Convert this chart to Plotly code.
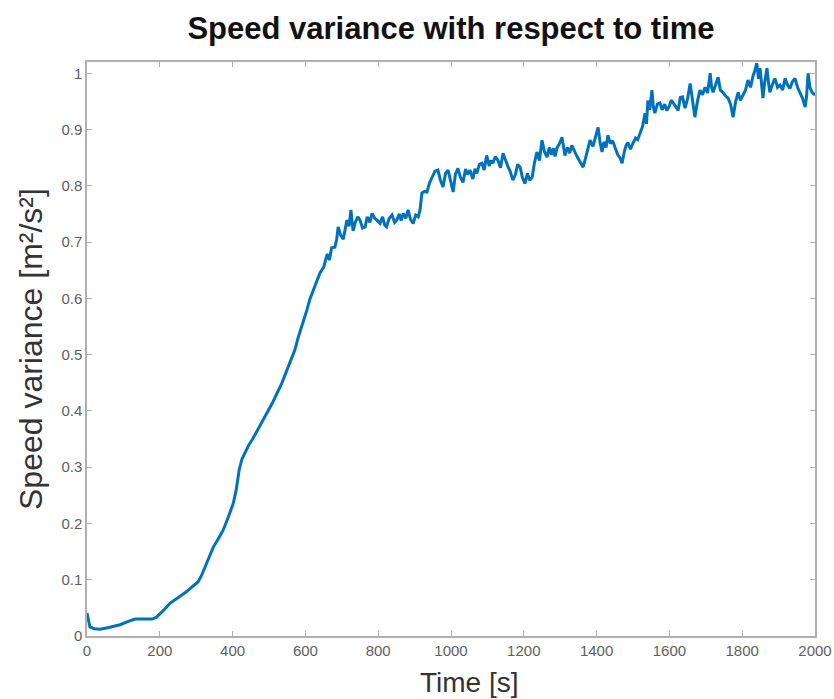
import plotly.graph_objects as go

# Elapsed time [s]
time_s = [
    0, 4, 8, 20, 36, 60, 91, 110, 132, 155, 179, 190, 200, 214, 228, 250, 274,
    290, 305, 315, 324, 335, 347, 360, 374, 388, 402, 410, 418, 426, 436, 445,
    455, 470, 489, 510, 535, 555, 571, 580, 590, 597, 604, 612, 622, 632, 640,
    650, 660, 666, 672, 681, 686, 690, 697, 704, 710, 714, 720, 725, 731, 737,
    744, 750, 757, 764, 770, 777, 783, 791, 798, 805, 812, 818, 823, 830, 838,
    845, 851, 858, 863, 869, 876, 882, 889, 896, 903, 910, 915, 920, 927, 934,
    941, 948, 956, 964, 971, 978, 985, 992, 999, 1006, 1012, 1019, 1026, 1033,
    1040, 1046, 1052, 1060, 1066, 1071, 1078, 1085, 1091, 1098, 1105, 1110,
    1115, 1122, 1129, 1136, 1143, 1150, 1157, 1163, 1170, 1177, 1183, 1190,
    1196, 1203, 1210, 1216, 1223, 1229, 1236, 1243, 1250, 1257, 1264, 1270,
    1276, 1281, 1286, 1291, 1298, 1305, 1313, 1320, 1326, 1332, 1338, 1344,
    1349, 1356, 1363, 1370, 1376, 1382, 1390, 1397, 1404, 1410, 1415, 1420,
    1426, 1431, 1438, 1444, 1451, 1458, 1464, 1470, 1476, 1481, 1486, 1493,
    1500, 1507, 1513, 1519, 1526, 1533, 1537, 1541, 1546, 1552, 1556, 1560,
    1567, 1574, 1580, 1587, 1593, 1600, 1605, 1610, 1617, 1624, 1630, 1636,
    1643, 1650, 1657, 1663, 1670, 1677, 1684, 1691, 1698, 1705, 1712, 1716,
    1720, 1727, 1734, 1740, 1747, 1754, 1761, 1768, 1775, 1782, 1789, 1795,
    1802, 1809, 1816, 1823, 1830, 1835, 1840, 1845, 1849, 1853, 1857, 1862,
    1868, 1872, 1876, 1883, 1890, 1897, 1904, 1911, 1918, 1924, 1931, 1938,
    1945, 1952, 1959, 1966, 1973, 1977, 1981, 1986, 1992, 2000,
]

# Speed variance [m^2/s^2]
speed_variance = [
    0.041, 0.025, 0.016, 0.013, 0.012, 0.015, 0.020, 0.025, 0.030, 0.030,
    0.030, 0.033, 0.039, 0.048, 0.058, 0.068, 0.079, 0.088, 0.096, 0.108,
    0.122, 0.139, 0.158, 0.172, 0.188, 0.211, 0.236, 0.260, 0.295, 0.315,
    0.328, 0.340, 0.350, 0.368, 0.389, 0.415, 0.449, 0.480, 0.508, 0.530,
    0.549, 0.565, 0.579, 0.598, 0.615, 0.632, 0.645,
    0.655, 0.679, 0.668, 0.690, 0.691, 0.705, 0.727, 0.712, 0.705, 0.730,
    0.739, 0.728, 0.757, 0.720, 0.735, 0.745, 0.739, 0.725, 0.727, 0.745,
    0.735, 0.751, 0.742, 0.738, 0.733, 0.745, 0.730, 0.727, 0.742, 0.748,
    0.735, 0.739, 0.750, 0.738, 0.751, 0.742, 0.757, 0.740, 0.733, 0.748,
    0.745, 0.757, 0.787, 0.790, 0.789, 0.805, 0.815, 0.826, 0.828, 0.810,
    0.798, 0.822, 0.828, 0.810, 0.789, 0.820, 0.831, 0.815, 0.806, 0.830,
    0.820, 0.828, 0.812, 0.830, 0.822, 0.838, 0.840, 0.828, 0.854, 0.835,
    0.845, 0.840, 0.852, 0.845, 0.832, 0.858, 0.845, 0.833, 0.825, 0.810,
    0.820, 0.838, 0.833, 0.815, 0.804, 0.822, 0.810, 0.815, 0.840, 0.860,
    0.845, 0.881, 0.860, 0.851, 0.868, 0.855, 0.867, 0.852, 0.867, 0.875,
    0.886, 0.854, 0.868, 0.858, 0.872, 0.862, 0.855, 0.849, 0.842, 0.833,
    0.850, 0.868, 0.881, 0.870, 0.890, 0.904, 0.875, 0.860, 0.878, 0.868,
    0.890, 0.875, 0.880, 0.867, 0.855, 0.850, 0.840, 0.860, 0.872, 0.877,
    0.865, 0.876, 0.885, 0.882, 0.893, 0.905, 0.929, 0.910, 0.952, 0.935,
    0.970, 0.940, 0.929, 0.945, 0.947, 0.935, 0.945, 0.934, 0.942, 0.952,
    0.948, 0.940, 0.934, 0.957, 0.958, 0.938, 0.955, 0.982, 0.955, 0.922,
    0.950, 0.970, 0.962, 0.975, 0.965, 1.000, 0.975, 0.966, 0.980, 0.993,
    0.970, 0.966, 0.960, 0.956, 0.945, 0.922, 0.950, 0.966, 0.952, 0.961,
    0.970, 0.988, 0.975, 0.996, 1.005, 1.018, 0.990, 1.009, 0.975, 0.956,
    0.985, 1.009, 0.985, 0.966, 0.980, 0.991, 0.975, 0.979, 0.970, 0.991,
    0.980, 0.973, 0.985, 0.991, 0.975, 0.966, 0.955, 0.940, 0.960, 1.000,
    0.975, 0.966, 0.961,
]

x_ticks = [0, 200, 400, 600, 800, 1000, 1200, 1400, 1600, 1800, 2000]
y_ticks = [0, 0.1, 0.2, 0.3, 0.4, 0.5, 0.6, 0.7, 0.8, 0.9, 1]
y_tick_text = ["0", "0.1", "0.2", "0.3", "0.4", "0.5", "0.6", "0.7", "0.8", "0.9", "1"]

FONT = "Liberation Sans, Arial, Helvetica, sans-serif"
AXIS_GREY = "#b0b0b0"
TICK_GREY = "#5e5e5e"

fig = go.Figure(
    go.Scatter(
        x=time_s,
        y=speed_variance,
        mode="lines",
        line=dict(color="#0072BD", width=3),
        hoverinfo="skip",
    )
)

axis_common = dict(
    showline=True,
    linecolor=AXIS_GREY,
    linewidth=1.5,
    mirror="allticks",
    ticks="inside",
    ticklen=5,
    tickwidth=1,
    tickcolor=AXIS_GREY,
    showgrid=False,
    zeroline=False,
    automargin=False,
    tickfont=dict(family=FONT, size=15, color=TICK_GREY),
)

fig.update_xaxes(range=[0, 2000], tickvals=x_ticks, **axis_common)
fig.update_yaxes(range=[0, 1.02], tickvals=y_ticks, ticktext=y_tick_text, **axis_common)

fig.update_layout(
    width=834,
    height=699,
    margin=dict(l=87, r=19, t=62, b=63, autoexpand=False),
    paper_bgcolor="white",
    plot_bgcolor="white",
    showlegend=False,
    title=dict(
        text="<b>Speed variance with respect to time</b>",
        x=451 / 834,
        xanchor="center",
        y=1 - 28 / 699,
        yanchor="middle",
        font=dict(family=FONT, size=31, color="#111111"),
    ),
    annotations=[
        dict(
            text="Speed variance [m²/s²]",
            xref="paper", yref="paper",
            x=(31 - 87) / 728, y=0.5,
            xanchor="center", yanchor="middle",
            textangle=-90, showarrow=False,
            font=dict(family=FONT, size=32, color="#333333"),
        ),
        dict(
            text="Time [s]",
            xref="paper", yref="paper",
            x=(469 - 87) / 728, y=(636 - 683) / 574,
            xanchor="center", yanchor="middle",
            showarrow=False,
            font=dict(family=FONT, size=28, color="#333333"),
        ),
    ],
)

fig.write_html("out.html")
